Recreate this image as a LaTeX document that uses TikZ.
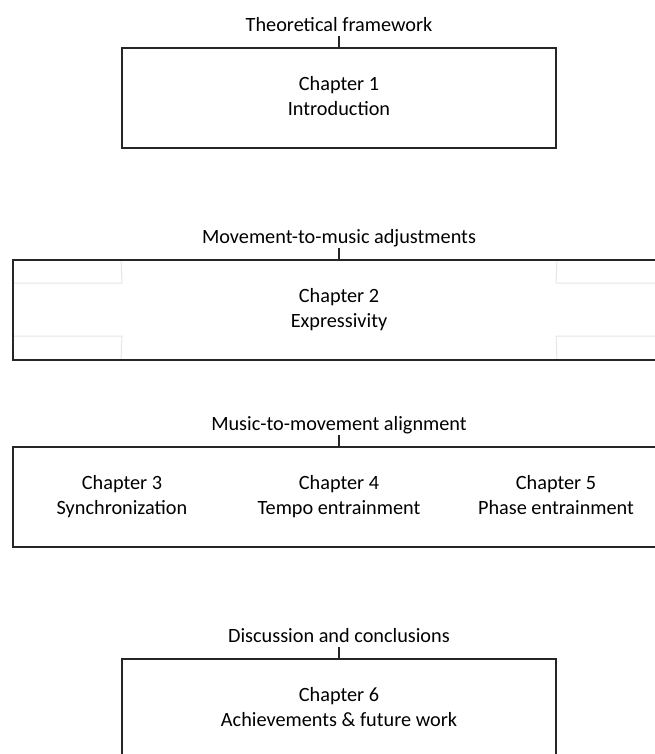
\documentclass[tikz,border=0pt]{standalone}
\usepackage{fontspec}
\setmainfont{Carlito}
\usepackage{xcolor}
\usetikzlibrary{positioning,backgrounds}

\newcommand\chaplines[2]{#1\strut\\#2\strut}

\tikzset{
  chapbox/.style={draw=black!85, line width=1.5pt, inner sep=0pt,
    minimum height=100*0.75pt, align=center},
  parttitle/.style={inner xsep=0pt, inner ysep=3.5pt, text depth=0pt},
  chaptext/.style={align=center, inner sep=0pt},
  tick/.style={draw=black!85, line width=1pt},
  faint/.style={draw=black!10, line width=0.75pt}
}

\begin{document}
\begin{tikzpicture}[x=0.75pt, y=-0.75pt, font=\fontsize{15.2}{18.8}\selectfont]
  \def\wn{434*0.75pt}
  \def\ww{652*0.75pt}
  \useasboundingbox (0,0) rectangle (655,754);
  \clip (0,0) rectangle (655,754);

  \node[chapbox, minimum width=\wn] (intro) at (339,98)
    {\chaplines{Chapter 1}{Introduction}};
  \node[parttitle, above=11*0.75pt of intro] (theory) {Theoretical framework};
  \draw[tick] (theory.south) -- (intro.north);

  \node[chapbox, minimum width=\ww] (expr) at (339,310)
    {\chaplines{Chapter 2}{Expressivity}};
  \node[parttitle, above=11*0.75pt of expr] (adjust) {Movement-to-music adjustments};
  \draw[tick] (adjust.south) -- (expr.north);
  \begin{scope}[on background layer]
    \draw[faint]
      (intro.west |- expr.north) -- (122,283) -- (expr.west |- 0,283)
      (intro.west |- expr.south) -- (122,336) -- (expr.west |- 0,336)
      (intro.east |- expr.north) -- (556,283) -- (655,283)
      (intro.east |- expr.south) -- (556,336) -- (655,336)
    ;
  \end{scope}

  \node[chapbox, minimum width=\ww] (align) at (339,497) {};
  \node[parttitle, above=11*0.75pt of align] (m2m) {Music-to-movement alignment};
  \draw[tick] (m2m.south) -- (align.north);
  \node[chaptext] (sync) at (122,497) {\chaplines{Chapter 3}{Synchronization}};
  \node[chaptext] (tempo) at (339,497) {\chaplines{Chapter 4}{Tempo entrainment}};
  \node[chaptext] (phase) at (556,497) {\chaplines{Chapter 5}{Phase entrainment}};

  \node[chapbox, minimum width=\wn] (achieve) at (339,709)
    {\chaplines{Chapter 6}{Achievements \& future work}};
  \node[parttitle, above=11*0.75pt of achieve] (discuss) {Discussion and conclusions};
  \draw[tick] (discuss.south) -- (achieve.north);
\end{tikzpicture}
\end{document}
